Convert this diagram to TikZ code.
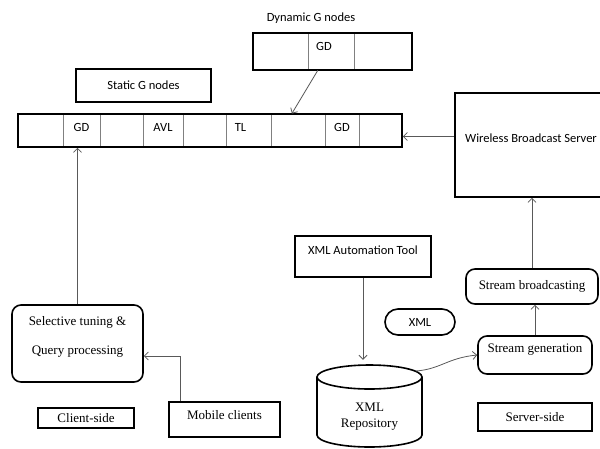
\documentclass[tikz,border=0pt]{standalone}
\usepackage{fontspec}
\setmainfont{Liberation Serif}
\newfontfamily\calib{Carlito}
\usetikzlibrary{arrows.meta}

\begin{document}
\begin{tikzpicture}[x=1pt,y=-1pt]
\tikzset{boite/.style={draw, line width=1.6pt, inner sep=0pt, font=\fontsize{13}{15}\selectfont},
  rboite/.style={boite, rounded corners=9pt},
  sboite/.style={boite, font=\calib\fontsize{12.5}{14}\selectfont},
  cellule/.style={draw=black!50, line width=0.8pt, inner sep=0pt, minimum height=33pt},
  dcellule/.style={cellule, minimum height=37pt},
  etiq/.style={font=\calib\fontsize{12.5}{14}\selectfont, inner sep=1pt},
  serif/.style={font=\fontsize{13}{15}\selectfont, inner sep=1pt},
  fleche/.style={draw=black!65, line width=0.8pt, -{Straight Barb[length=4pt,width=8pt]}}}
\useasboundingbox (0,0) rectangle (600,448);
% dynamic G nodes
\node[etiq] (titreDyn) at (311,18) {Dynamic G nodes};
\node[dcellule, minimum width=55pt] (D1) at (280.5,51.5) {};
\node[dcellule, minimum width=46pt, label={[etiq,xshift=-7pt,yshift=5.5pt]center:GD}] (D2) at (331,51.5) {};
\node[dcellule, minimum width=58pt] (D3) at (383,51.5) {};
\node[draw, line width=1.6pt, inner sep=0pt, minimum width=159pt, minimum height=37pt] (dyn) at (332.5,51.5) {};
% static G nodes
\node[sboite, minimum width=135pt, minimum height=33pt] (stat) at (143.5,85.5) {Static G nodes};
% broadcast bar
\node[cellule, minimum width=45pt] (B1) at (40.5,130.5) {};
\node[cellule, minimum width=37pt, label={[etiq,yshift=3.5pt]center:GD}] (B2) at (81.5,130.5) {};
\node[cellule, minimum width=43pt] (B3) at (121.5,130.5) {};
\node[cellule, minimum width=40pt, label={[etiq,yshift=3.5pt]center:AVL}] (B4) at (163,130.5) {};
\node[cellule, minimum width=43pt] (B5) at (204.5,130.5) {};
\node[cellule, minimum width=45pt, label={[etiq,xshift=-8pt,yshift=3.5pt]center:TL}] (B6) at (248.5,130.5) {};
\node[cellule, minimum width=54pt] (B7) at (298,130.5) {};
\node[cellule, minimum width=34pt, label={[etiq,yshift=3.5pt]center:GD}] (B8) at (342,130.5) {};
\node[cellule, minimum width=43pt] (B9) at (380.5,130.5) {};
\node[draw, line width=1.6pt, inner sep=0pt, minimum width=384pt, minimum height=33pt] (barre) at (210,130.5) {};
% server side
\node[boite, minimum width=152pt, minimum height=104pt,
  label={[etiq,yshift=7pt]center:Wireless Broadcast Server}] (srv) at (531,145) {};
\node[rboite, minimum width=132pt, minimum height=35pt] (sb) at (532,286.5) {Stream broadcasting};
\node[rboite, minimum width=114pt, minimum height=38pt,
  label={[serif,yshift=5pt]center:Stream generation}] (sg) at (535,355) {};
\node[boite, minimum width=114pt, minimum height=28pt] (ss) at (535,417) {Server-side};
\node[boite, minimum width=136pt, minimum height=41pt,
  label={[etiq,yshift=6.5pt]center:XML Automation Tool}] (auto) at (363,256.5) {};
\node[sboite, rounded corners=13pt, minimum width=70pt, minimum height=26pt] (xml) at (420,322) {XML};
% repository drum
\node[inner sep=0pt, minimum width=105pt, minimum height=82pt,
  label={[serif,align=center,yshift=-10.5pt]center:XML\\[1pt]Repository}] (repo) at (369.5,406) {};
\draw[line width=1.6pt] (317,377) -- (317,435) arc[start angle=180, end angle=0, x radius=52.5, y radius=12] -- (422,377);
\draw[line width=1.6pt] (369.5,377) ellipse[x radius=52.5, y radius=12];
\coordinate (repoR) at (416,371);
% client side
\node[rboite, minimum width=131pt, minimum height=77pt,
  label={[serif,yshift=7pt,align=center]center:Selective tuning \&\\[14pt]Query processing}] (sel) at (77.5,343.5) {};
\node[boite, minimum width=111pt, minimum height=35pt,
  label={[serif,yshift=4.5pt]center:Mobile clients}] (mob) at (224.5,419.5) {};
\node[boite, minimum width=96pt, minimum height=20pt] (cli) at (86,418) {Client-side};
% connectors
\draw[fleche] (D2.235) -- (B7.110);
\draw[fleche] ([yshift=8.5pt]srv.west) -- ([yshift=8.5pt]srv.west -| barre.east);
\draw[fleche] (sb.north) -- (sb.north |- srv.south);
\draw[fleche] (sg.north) -- (sg.north |- sb.south);
\draw[fleche] (auto.south) -- ([yshift=5pt]auto.south |- repo.north);
\draw[fleche] (repoR) .. controls +(25,-2) and +(-30,3) .. (sg.west);
\draw[fleche] (sel.north) -- (sel.north |- barre.south);
\draw[fleche] ([xshift=-44.5pt]mob.north) |- ([yshift=-12.5pt]sel.east);
\end{tikzpicture}
\end{document}
